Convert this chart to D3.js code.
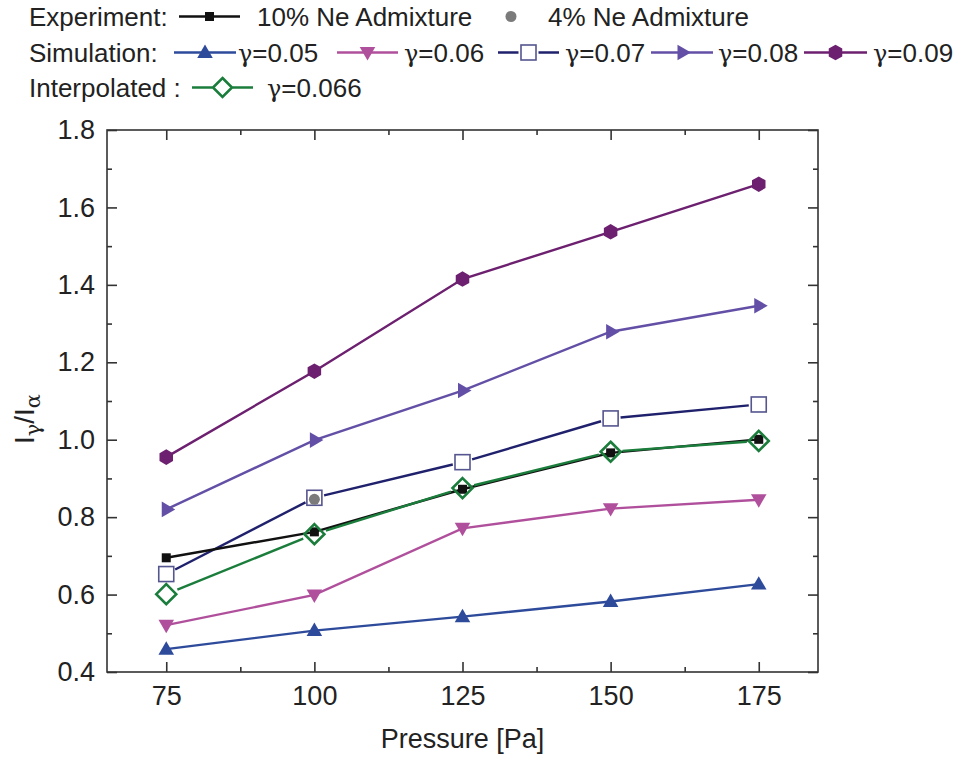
<!DOCTYPE html>
<html>
<head>
<meta charset="utf-8">
<script src="https://cdn.jsdelivr.net/npm/d3@7"></script>
<style>
	body { margin: 0; background: #fff; }
	text { font-family: "Liberation Sans", Arial, sans-serif; fill: #222; }
	.serif { font-family: "DejaVu Serif", "Liberation Serif", serif; }
</style>
</head>
<body>
<div id="chart"></div>
<script>
// data
const pressure = [75, 100, 125, 150, 175]
const gamma005 = [0.459, 0.507, 0.543, 0.582, 0.627]
const gamma006 = [0.521, 0.599, 0.771, 0.822, 0.845]
const gamma007 = [0.653, 0.850, 0.942, 1.055, 1.091]
const gamma008 = [0.820, 0.999, 1.127, 1.279, 1.346]
const gamma009 = [0.955, 1.177, 1.415, 1.537, 1.660]
const exp10 = [0.695, 0.762, 0.872, 0.966, 1.001]
const exp4Pressure = [100]
const exp4 = [0.846]
const interp0066 = [0.601, 0.756, 0.875, 0.969, 0.997]

const xTicks = [75, 100, 125, 150, 175]
const xMinor = [87.5, 112.5, 137.5, 162.5]
const yTicks = [0.4, 0.6, 0.8, 1.0, 1.2, 1.4, 1.6, 1.8]
const yMinor = [0.5, 0.7, 0.9, 1.1, 1.3, 1.5, 1.7]

const series = [
	{ key: "g005", label: "0.05", values: gamma005, color: "#2e4b9b", marker: "up" },
	{ key: "g006", label: "0.06", values: gamma006, color: "#b0509c", marker: "down" },
	{ key: "g007", label: "0.07", values: gamma007, color: "#20216c", marker: "square", open: true, gap: 10 },
	{ key: "g008", label: "0.08", values: gamma008, color: "#6350a6", marker: "right" },
	{ key: "g009", label: "0.09", values: gamma009, color: "#6c206f", marker: "hex" },
	{ key: "exp10", label: "10% Ne Admixture", values: exp10, color: "#111111", marker: "small" },
	{ key: "interp", label: "0.066", values: interp0066, color: "#1b7d3b", marker: "diamond", open: true, gap: 12 },
]

const width = 956
const height = 762
const margin = { top: 130, right: 138, bottom: 90, left: 107 }
const lineWidth = 2.4

const svg = d3.select("#chart").append("svg")
	.attr("width", width)
	.attr("height", height)

const x = d3.scaleLinear().domain([65, 185]).range([margin.left, width - margin.right])
const y = d3.scaleLinear().domain([0.4, 1.8]).range([height - margin.bottom, margin.top])

const x0 = x.range()[0], x1 = x.range()[1]
const y0 = y.range()[0], y1 = y.range()[1]

function drawMarker(g, type, color, cx, cy, legend) {
	let el
	if (type === "up" || type === "down" || type === "right") {
		const rot = type === "up" ? 0 : type === "down" ? 180 : 90
		el = g.append("path")
			.attr("d", d3.symbol(d3.symbolTriangle, 105)())
			.attr("transform", `translate(${cx},${cy + (type === "up" ? 1 : type === "down" ? -1 : 0)}) rotate(${rot})`)
			.attr("fill", color)
	} else if (type === "hex") {
		const r = 7.8
		const pts = d3.range(6).map((i) => {
			const a = Math.PI / 3 * i - Math.PI / 2
			return [cx + r * Math.cos(a), cy + r * Math.sin(a)]
		})
		el = g.append("path")
			.attr("d", d3.line()(pts) + "Z")
			.attr("fill", color)
	} else if (type === "square") {
		el = g.append("rect")
			.attr("x", cx - 7.5).attr("y", cy - 7.5)
			.attr("width", 15).attr("height", 15)
			.attr("fill", "none")
			.attr("stroke", "#55558f")
			.attr("stroke-width", 1.6)
	} else if (type === "diamond") {
		const r = legend ? 9.5 : 10
		el = g.append("path")
			.attr("d", `M${cx},${cy - r}L${cx + r},${cy}L${cx},${cy + r}L${cx - r},${cy}Z`)
			.attr("fill", "none")
			.attr("stroke", color)
			.attr("stroke-width", 2.6)
	} else if (type === "small") {
		el = g.append("rect")
			.attr("x", cx - 4.5).attr("y", cy - 4.5)
			.attr("width", 9).attr("height", 9)
			.attr("fill", color)
	} else if (type === "dot") {
		el = g.append("circle")
			.attr("cx", cx).attr("cy", cy).attr("r", 5.5)
			.attr("fill", color)
	}
	return el
}

// axes, ticks pointing inward
const axes = svg.append("g").attr("class", "axes")

axes.append("g")
	.attr("transform", `translate(0,${y0})`)
	.call(d3.axisBottom(x).tickValues(xTicks).tickSizeInner(-10).tickSizeOuter(0).tickPadding(14))
	.call((g) => g.select(".domain").remove())
	.selectAll("text").style("font-size", "27px")

axes.append("g")
	.attr("transform", `translate(0,${y0})`)
	.call(d3.axisBottom(x).tickValues(xMinor).tickSizeInner(-5).tickSizeOuter(0).tickFormat(""))
	.call((g) => g.select(".domain").remove())

axes.append("g")
	.attr("transform", `translate(0,${y1})`)
	.call(d3.axisTop(x).tickValues(xTicks).tickSizeInner(-10).tickSizeOuter(0).tickFormat(""))
	.call((g) => g.select(".domain").remove())

axes.append("g")
	.attr("transform", `translate(0,${y1})`)
	.call(d3.axisTop(x).tickValues(xMinor).tickSizeInner(-5).tickSizeOuter(0).tickFormat(""))
	.call((g) => g.select(".domain").remove())

axes.append("g")
	.attr("transform", `translate(${x0},0)`)
	.call(d3.axisLeft(y).tickValues(yTicks).tickSizeInner(-10).tickSizeOuter(0).tickPadding(12).tickFormat(d3.format(".1f")))
	.call((g) => g.select(".domain").remove())
	.selectAll("text").style("font-size", "27px")

axes.append("g")
	.attr("transform", `translate(${x0},0)`)
	.call(d3.axisLeft(y).tickValues(yMinor).tickSizeInner(-5).tickSizeOuter(0).tickFormat(""))
	.call((g) => g.select(".domain").remove())

axes.append("g")
	.attr("transform", `translate(${x1},0)`)
	.call(d3.axisRight(y).tickValues(yTicks).tickSizeInner(-10).tickSizeOuter(0).tickFormat(""))
	.call((g) => g.select(".domain").remove())

axes.append("g")
	.attr("transform", `translate(${x1},0)`)
	.call(d3.axisRight(y).tickValues(yMinor).tickSizeInner(-5).tickSizeOuter(0).tickFormat(""))
	.call((g) => g.select(".domain").remove())

axes.selectAll(".tick line").attr("stroke", "#333").attr("stroke-width", 1.6)
axes.selectAll(".tick text").attr("fill", "#222")

// frame
svg.append("rect")
	.attr("x", x0).attr("y", y1)
	.attr("width", x1 - x0).attr("height", y0 - y1)
	.attr("fill", "none")
	.attr("stroke", "#333")
	.attr("stroke-width", 1.6)

// axis titles
svg.append("text")
	.attr("x", (x0 + x1) / 2)
	.attr("y", 748)
	.attr("text-anchor", "middle")
	.style("font-size", "27px")
	.text("Pressure [Pa]")

const yTitle = svg.append("text")
	.attr("transform", `translate(34,${(y0 + y1) / 2 + 18}) rotate(-90)`)
	.attr("text-anchor", "middle")
	.style("font-size", "28px")
yTitle.append("tspan").text("I")
yTitle.append("tspan").attr("class", "serif").attr("dy", 6).style("font-size", "21px").text("γ")
yTitle.append("tspan").attr("dy", -6).text("/I")
yTitle.append("tspan").attr("class", "serif").attr("dy", 6).style("font-size", "21px").text("α")

// lines and markers
const plot = svg.append("g").attr("class", "plot")
const line = d3.line().x((d) => x(d[0])).y((d) => y(d[1]))

series.forEach((s) => {
	const pts = pressure.map((p, i) => [p, s.values[i]])
	if (s.open) {
		// Origin-style gap round open symbols
		for (let i = 0; i < pts.length - 1; i++) {
			const ax = x(pts[i][0]), ay = y(pts[i][1])
			const bx = x(pts[i + 1][0]), by = y(pts[i + 1][1])
			const len = Math.hypot(bx - ax, by - ay)
			const ux = (bx - ax) / len, uy = (by - ay) / len
			plot.append("line")
				.attr("x1", ax + ux * s.gap).attr("y1", ay + uy * s.gap)
				.attr("x2", bx - ux * s.gap).attr("y2", by - uy * s.gap)
				.attr("stroke", s.color)
				.attr("stroke-width", lineWidth)
		}
	} else {
		plot.append("path")
			.datum(pts)
			.attr("d", line)
			.attr("fill", "none")
			.attr("stroke", s.color)
			.attr("stroke-width", lineWidth)
	}
	pts.forEach((d) => drawMarker(plot, s.marker, s.color, x(d[0]), y(d[1])))
	if (s.key === "exp10") {
		exp4Pressure.forEach((p, i) => drawMarker(plot, "dot", "#7b7b7b", x(p), y(exp4[i])))
	}
})

// legend
const legend = svg.append("g").attr("class", "legend").style("font-size", "26px")
const rows = [
	{ label: "Experiment:", baseline: 26 },
	{ label: "Simulation:", baseline: 62 },
	{ label: "Interpolated :", baseline: 97 },
]
rows.forEach((r) => legend.append("text").attr("x", 29).attr("y", r.baseline).text(r.label))

function legendSample(s, xa, xb, base) {
	const cy = base - 9.5
	legend.append("line")
		.attr("x1", xa).attr("x2", xb)
		.attr("y1", cy).attr("y2", cy)
		.attr("stroke", s.color)
		.attr("stroke-width", lineWidth)
	if (s.open) {
		legend.append("rect")
			.attr("x", (xa + xb) / 2 - 10).attr("y", cy - 10)
			.attr("width", 20).attr("height", 20)
			.attr("fill", "#fff")
	}
	drawMarker(legend, s.marker, s.color, (xa + xb) / 2, cy, true)
}

function gammaText(s, tx, base) {
	const t = legend.append("text").attr("x", tx).attr("y", base)
	t.append("tspan").attr("class", "serif").style("font-size", "24px").text("γ")
	t.append("tspan").text("=" + s.label)
}

const byKey = Object.fromEntries(series.map((s) => [s.key, s]))

legendSample(byKey.exp10, 179, 240, 26)
legend.append("text").attr("x", 257).attr("y", 26).text("10% Ne Admixture")
drawMarker(legend, "dot", "#7b7b7b", 511, 16.5)
legend.append("text").attr("x", 548).attr("y", 26).text("4% Ne Admixture")

const simSlots = [[174, 236, 238], [337, 398, 404], [498, 559, 565], [651, 713, 718], [804, 867, 873]]
;["g005", "g006", "g007", "g008", "g009"].forEach((k, i) => {
	const [xa, xb, tx] = simSlots[i]
	legendSample(byKey[k], xa, xb, 62)
	gammaText(byKey[k], tx, 62)
})

legendSample(byKey.interp, 192, 253, 97)
gammaText(byKey.interp, 267, 97)
</script>
</body>
</html>
